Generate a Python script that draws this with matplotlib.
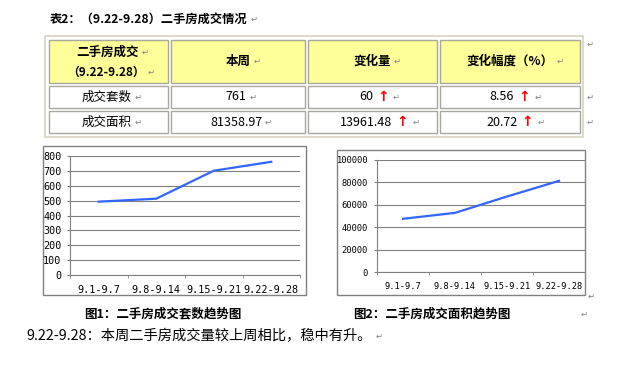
import matplotlib
matplotlib.use("Agg")
import matplotlib.pyplot as plt
from matplotlib.patches import Rectangle
import numpy as np

plt.rcParams['font.family'] = ['Noto Sans CJK SC', 'DejaVu Sans']

# data
weeks = ["9.1-9.7", "9.8-9.14", "9.15-9.21", "9.22-9.28"]
deal_counts = [493, 513, 701, 761]
deal_areas = [47500, 52800, 67397.49, 81358.97]

header = ["本周", "变化量", "变化幅度（%）"]
row_names = ["成交套数", "成交面积"]
this_week = ["761", "81358.97"]
change = ["60", "13961.48"]
change_pct = ["8.56", "20.72"]

W, H = 642, 379
fig = plt.figure(figsize=(W / 100, H / 100), dpi=100)

bg = fig.add_axes([0, 0, 1, 1])
bg.set_xlim(0, W)
bg.set_ylim(H, 0)
bg.axis('off')

RET = '#808080'


def ret_after(txt, dx=2):
    bg.annotate('↵', xy=(1, 0.5), xycoords=txt, xytext=(dx, 0), textcoords='offset points',
                va='center', ha='left', fontsize=6, color=RET, family='DejaVu Sans')


# title
t = bg.text(50, 19, "表2：（9.22-9.28）二手房成交情况", fontsize=8.8, fontweight='bold', va='center')
ret_after(t)

# table
cols = [(49, 168), (171, 305), (308, 437), (440, 580)]
rows = [(40, 83), (86, 108), (111, 133)]
bg.add_patch(Rectangle((45, 36), 538, 101, fill=False, ec='#D8D4C0', lw=1.2))
for r, (t0, t1) in enumerate(rows):
    for c, (l0, l1) in enumerate(cols):
        bg.add_patch(Rectangle((l0, t0), l1 - l0, t1 - t0, fc='#FFFF99' if r == 0 else 'white',
                               ec='#A8A8A0', lw=1))

t = bg.text(108, 52, "二手房成交", fontsize=9, fontweight='bold', ha='center', va='center')
ret_after(t)
t = bg.text(106, 72, "（9.22-9.28）", fontsize=8.5, fontweight='bold', ha='center', va='center')
ret_after(t)
for (l0, l1), name in zip(cols[1:], header):
    t = bg.text((l0 + l1) / 2, 61, name, fontsize=9, fontweight='bold', ha='center', va='center')
    ret_after(t)

row_y = [(a + b) / 2 for a, b in rows[1:]]
for y, name, v, d, p in zip(row_y, row_names, this_week, change, change_pct):
    t = bg.text(107, y, name, fontsize=9, ha='center', va='center')
    ret_after(t)
    t = bg.text(236, y, v, fontsize=9, ha='center', va='center')
    ret_after(t)
    for cx, val in [(366, d), (502, p)]:
        t = bg.text(cx, y, val, fontsize=9, ha='center', va='center')
        a = bg.annotate('↑', xy=(1, 0.5), xycoords=t, xytext=(3, 0), textcoords='offset points',
                        va='center', ha='left', fontsize=10, color='red', fontweight='bold',
                        family='DejaVu Sans')
        ret_after(a, 3)

for y in [44, 97, 122]:
    bg.text(587, y, '↵', fontsize=6, color=RET, va='center', family='DejaVu Sans')

# chart frames
bg.add_patch(Rectangle((43, 146), 263, 149, fill=False, ec='#808080', lw=1))
bg.add_patch(Rectangle((337, 150), 248, 145, fill=False, ec='#808080', lw=1))


def px_axes(l, t, r, b):
    return fig.add_axes([l / W, 1 - b / H, (r - l) / W, (b - t) / H])


def trend(ax, values, ymax, ystep, fs, ypad):
    x = np.arange(len(weeks))
    ax.plot(x, values, color='#3366FF', lw=1.6)
    ax.set_xlim(-0.5, len(weeks) - 0.5)
    ax.set_ylim(0, ymax)
    ax.set_yticks(np.arange(0, ymax + 1, ystep))
    ax.set_xticks(x, weeks)
    ax.set_xticks(np.arange(len(weeks) + 1) - 0.5, minor=True)
    ax.yaxis.grid(True, color='#808080', lw=0.8)
    ax.set_axisbelow(True)
    ax.patch.set_alpha(0)
    for s in ['top', 'right']:
        ax.spines[s].set_visible(False)
    for s in ['left', 'bottom']:
        ax.spines[s].set_color('#808080')
        ax.spines[s].set_linewidth(0.8)
    ax.tick_params(axis='x', which='major', length=0, pad=7)
    ax.tick_params(axis='x', which='minor', length=2.5, color='#808080')
    ax.tick_params(axis='y', length=2.5, color='#808080', pad=ypad)
    for lab in ax.get_xticklabels() + ax.get_yticklabels():
        lab.set_family('DejaVu Sans Mono')
        lab.set_fontsize(fs)


ax1 = px_axes(70, 156, 300, 275)
trend(ax1, deal_counts, 800, 100, 7.3, 3.5)

ax2 = px_axes(377, 160, 585, 272)
trend(ax2, deal_areas, 100000, 20000, 6.3, 4)

# captions
bg.text(163, 314, "图1：二手房成交套数趋势图", fontsize=9, fontweight='bold', ha='center', va='center')
bg.text(353, 314, "图2：二手房成交面积趋势图", fontsize=9, fontweight='bold', ha='left', va='center')
bg.text(588, 296, '↵', fontsize=6, color=RET, va='center', family='DejaVu Sans')
bg.text(581, 314, '↵', fontsize=6, color=RET, va='center', family='DejaVu Sans')

t = bg.text(26, 336, "9.22-9.28：本周二手房成交量较上周相比，稳中有升。", fontsize=10.3, va='center')
ret_after(t, 3)

fig.savefig("out.png", dpi=100)
